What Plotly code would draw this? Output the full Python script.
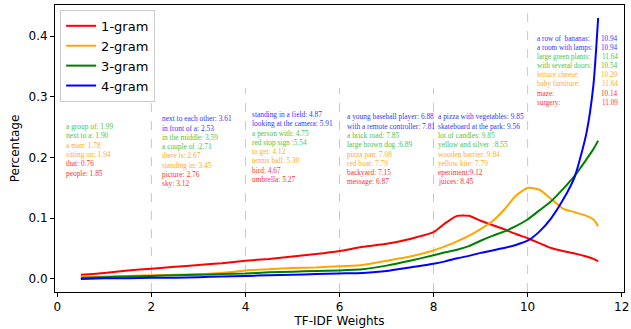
import plotly.graph_objects as go

# ---------------- data ----------------
x_vals = [0.5, 1, 1.5, 2, 2.5, 3, 3.5, 4, 4.5, 5, 5.5, 6, 6.5, 7, 7.5, 8, 8.25, 8.5,
          8.75, 9, 9.25, 9.5, 9.75, 10, 10.25, 10.5, 10.75, 11, 11.25, 11.4, 11.5]

gram1 = [0.007, 0.010, 0.014, 0.017, 0.020, 0.023, 0.026, 0.030, 0.033, 0.037, 0.041,
         0.046, 0.053, 0.058, 0.066, 0.077, 0.092, 0.104, 0.104, 0.096, 0.089, 0.082,
         0.074, 0.067, 0.059, 0.051, 0.046, 0.042, 0.037, 0.033, 0.029]
gram2 = [0.003, 0.004, 0.005, 0.006, 0.007, 0.008, 0.010, 0.014, 0.016, 0.018, 0.019,
         0.021, 0.023, 0.030, 0.037, 0.047, 0.054, 0.062, 0.071, 0.082, 0.095, 0.114,
         0.137, 0.150, 0.147, 0.132, 0.116, 0.110, 0.104, 0.098, 0.087]
gram3 = [0.002, 0.003, 0.004, 0.005, 0.006, 0.007, 0.008, 0.009, 0.011, 0.012, 0.013,
         0.014, 0.016, 0.022, 0.030, 0.039, 0.044, 0.048, 0.054, 0.063, 0.071, 0.078,
         0.087, 0.098, 0.113, 0.128, 0.148, 0.170, 0.197, 0.214, 0.228]
gram4 = [0.000, 0.001, 0.001, 0.002, 0.002, 0.003, 0.004, 0.005, 0.006, 0.007, 0.008,
         0.009, 0.010, 0.013, 0.019, 0.025, 0.029, 0.034, 0.038, 0.043, 0.047, 0.051,
         0.056, 0.063, 0.078, 0.100, 0.130, 0.168, 0.240, 0.320, 0.430]

series_names = ["1-gram", "2-gram", "3-gram", "4-gram"]
series_colors = ["red", "orange", "green", "blue"]

x_ticks = [0, 2, 4, 6, 8, 10, 12]
y_ticks = [0.0, 0.1, 0.2, 0.3, 0.4]
divider_x = [2, 4, 6, 8, 10]

# phrase groups: (text, gram index)
group1 = [("a group of: 1.99", 3), ("next to a: 1.90", 3), ("a man: 1.78", 2),
          ("sitting on: 1.94", 2), ("that: 0.76", 1), ("people: 1.85", 1)]
group2 = [("next to each other: 3.61", 4), ("in front of a: 2.53", 4),
          ("in the middle: 3.59", 3), ("a couple of :2.71", 3), ("there is: 2.67", 2),
          ("standing in: 3.45", 2), ("picture: 2.76", 1), ("sky: 3.12", 1)]
group3 = [("standing in a field: 4.87", 4), ("looking at the camera: 5.91", 4),
          ("a person with: 4.75", 3), ("red stop sign :5.54", 3), ("to get: 4.12", 2),
          ("tennis ball: 5.30", 2), ("bird: 4.67", 1), ("umbrella: 5.27", 1)]
group4 = [("a young baseball player: 6.88", 4), ("with a remote controller: 7.81", 4),
          ("a brick road: 7.85", 3), ("large brown dog :6.89", 3), ("pizza pan: 7.08", 2),
          ("red boat: 7.79", 2), ("backyard: 7.15", 1), ("message: 6.87", 1)]
group5 = [("a pizza with vegetables: 9.85", 4), ("skateboard at the park: 9.56", 4),
          ("lot of candles: 9.85", 3), ("yellow and silver  :8.55", 3),
          ("wooden barrier: 9.84", 2), ("yellow kite: 7.79", 2), ("eperiment:9.12", 1),
          ("juices: 8.45", 1)]
group6_labels = ["a row of  bananas:", "a room with lamps:", "large green plants:",
                 "with several doors:", "lettuce cheese:", "baby furniture:", "maze:",
                 "surgery:"]
group6_values = ["10.94", "10.94", "11.64", "10.54", "10.20", "11.64", "10.14", "11.09"]
group6_grams = [4, 4, 3, 3, 2, 2, 1, 1]

# ---------------- figure ----------------
text_colors = {1: "#ff3030", 2: "#ffad1f", 3: "#4cc44c", 4: "#3535ff"}
FONT_SERIF = "Liberation Serif, Times New Roman, serif"
FONT_SANS = "DejaVu Sans, sans-serif"
TXT = 7.4
TXT6 = 7.2

fig = go.Figure()
for name, col, ys in zip(series_names, series_colors, [gram1, gram2, gram3, gram4]):
    fig.add_trace(go.Scatter(x=x_vals, y=ys, mode="lines", name=name,
                             line=dict(color=col, width=2, shape="spline", smoothing=0.6)))

for xv in divider_x:
    top = 0.44 if xv == 10 else 0.315
    fig.add_shape(type="line", x0=xv, x1=xv, y0=-0.0215, y1=top, xref="x", yref="y",
                  line=dict(color="#c8c8c8", width=1, dash="dash"), layer="below")

step = 0.0153
annotations = []


def add_group(items, x0, y0):
    for i, (txt, g) in enumerate(items):
        annotations.append(dict(x=x0, y=y0 - i * step, xref="x", yref="y", text=txt,
                                showarrow=False, xanchor="left", yanchor="middle",
                                font=dict(family=FONT_SERIF, size=TXT, color=text_colors[g])))


add_group(group1, 0.15, 0.251)
add_group(group2, 2.18, 0.264)
add_group(group3, 4.10, 0.271)
add_group(group4, 6.12, 0.267)
add_group(group5, 8.06, 0.267)
for i, (lab, val, g) in enumerate(zip(group6_labels, group6_values, group6_grams)):
    yv = 0.395 - i * 0.0149
    annotations.append(dict(x=10.15, y=yv, xref="x", yref="y", text=lab, showarrow=False,
                            xanchor="left", yanchor="middle",
                            font=dict(family=FONT_SERIF, size=TXT6, color=text_colors[g])))
    annotations.append(dict(x=11.96, y=yv, xref="x", yref="y", text=val, showarrow=False,
                            xanchor="right", yanchor="middle",
                            font=dict(family=FONT_SERIF, size=TXT6, color=text_colors[g])))

axis_common = dict(showline=True, linecolor="black", linewidth=1, mirror=True,
                   ticks="outside", ticklen=4, tickwidth=1, tickcolor="black",
                   showgrid=False, zeroline=False, automargin=False,
                   tickfont=dict(family=FONT_SANS, size=12, color="black"))

fig.update_layout(
    width=631, height=329,
    margin=dict(l=55, r=7, t=5, b=37),
    paper_bgcolor="white", plot_bgcolor="white",
    annotations=annotations,
    xaxis=dict(range=[-0.05, 12.05], tickvals=x_ticks,
               title=dict(text="TF-IDF Weights", standoff=2,
                          font=dict(family=FONT_SANS, size=12, color="black")),
               **axis_common),
    yaxis=dict(range=[-0.0215, 0.4515], tickvals=y_ticks, tickformat=".1f",
               title=dict(text="Percentage", standoff=6,
                          font=dict(family=FONT_SANS, size=12, color="black")),
               **axis_common),
    legend=dict(x=0.009, y=0.983, xanchor="left", yanchor="top",
                bgcolor="rgba(255,255,255,0.9)", bordercolor="#cccccc", borderwidth=1,
                font=dict(family=FONT_SANS, size=13, color="black"),
                tracegroupgap=0, itemwidth=30),
    showlegend=True,
)

fig.write_html("out.html",
               config={"displayModeBar": False},
               post_script="document.body.style.margin='0px';"
                           "document.body.style.overflow='hidden';")
